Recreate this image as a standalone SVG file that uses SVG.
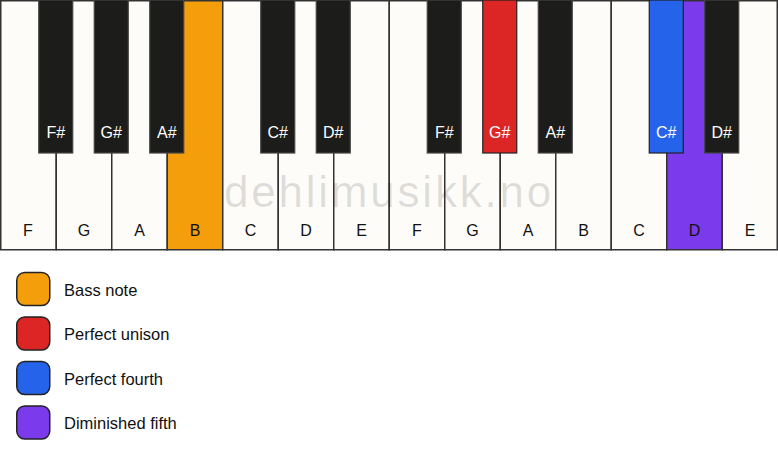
<svg xmlns="http://www.w3.org/2000/svg" width="778" height="461" viewBox="0 0 778 461">
<style>
.w{fill:#fdfcf8;stroke:#333;stroke-width:1.5}
.b{fill:#1c1c1a;stroke:#444;stroke-width:1.2}
.wl{font-family:"Liberation Sans",Arial,sans-serif;font-size:16px;fill:#111;text-anchor:middle}
.bl{font-family:"Liberation Sans",Arial,sans-serif;font-size:16px;fill:#fff;text-anchor:middle}
.lg{stroke:#222;stroke-width:1.5}
.lt{font-family:"Liberation Sans",Arial,sans-serif;font-size:16.5px;fill:#111}
.wm{font-family:"Liberation Sans",Arial,sans-serif;font-size:44px;fill:#000;fill-opacity:0.12;text-anchor:middle;letter-spacing:2.8px}
</style>
<rect width="778" height="461" fill="#ffffff"/>
<g id="white-keys">
<g id="key-F1"><rect class="w" x="0.75" y="0.75" width="55.5" height="249"/><text class="wl" x="28" y="236">F</text></g>
<g id="key-G1"><rect class="w" x="56.25" y="0.75" width="55.5" height="249"/><text class="wl" x="84" y="236">G</text></g>
<g id="key-A1"><rect class="w" x="111.75" y="0.75" width="55.5" height="249"/><text class="wl" x="139.5" y="236">A</text></g>
<g id="key-B1"><rect class="w" x="167.25" y="0.75" width="55.5" height="249" style="fill:#f59e0b"/><text class="wl" x="195" y="236">B</text></g>
<g id="key-C1"><rect class="w" x="222.75" y="0.75" width="55.5" height="249"/><text class="wl" x="250.5" y="236">C</text></g>
<g id="key-D1"><rect class="w" x="278.25" y="0.75" width="55.5" height="249"/><text class="wl" x="306" y="236">D</text></g>
<g id="key-E1"><rect class="w" x="333.75" y="0.75" width="55.5" height="249"/><text class="wl" x="361.5" y="236">E</text></g>
<g id="key-F2"><rect class="w" x="389.25" y="0.75" width="55.5" height="249"/><text class="wl" x="417" y="236">F</text></g>
<g id="key-G2"><rect class="w" x="444.75" y="0.75" width="55.5" height="249"/><text class="wl" x="472.5" y="236">G</text></g>
<g id="key-A2"><rect class="w" x="500.25" y="0.75" width="55.5" height="249"/><text class="wl" x="528" y="236">A</text></g>
<g id="key-B2"><rect class="w" x="555.75" y="0.75" width="55.5" height="249"/><text class="wl" x="583.5" y="236">B</text></g>
<g id="key-C2"><rect class="w" x="611.25" y="0.75" width="55.5" height="249"/><text class="wl" x="639" y="236">C</text></g>
<g id="key-D2"><rect class="w" x="666.75" y="0.75" width="55.5" height="249" style="fill:#7c3aed"/><text class="wl" x="694.5" y="236">D</text></g>
<g id="key-E2"><rect class="w" x="722.25" y="0.75" width="55" height="249"/><text class="wl" x="750" y="236">E</text></g>
</g>
<text class="wm" x="389" y="207">dehlimusikk.no</text>
<g id="black-keys">
<g id="key-Fs1"><rect class="b" x="38.75" y="0" width="34" height="153"/><text class="bl" x="55.75" y="138">F#</text></g>
<g id="key-Gs1"><rect class="b" x="94.25" y="0" width="34" height="153"/><text class="bl" x="111.25" y="138">G#</text></g>
<g id="key-As1"><rect class="b" x="149.75" y="0" width="34" height="153"/><text class="bl" x="166.75" y="138">A#</text></g>
<g id="key-Cs1"><rect class="b" x="260.75" y="0" width="34" height="153"/><text class="bl" x="277.75" y="138">C#</text></g>
<g id="key-Ds1"><rect class="b" x="316.25" y="0" width="34" height="153"/><text class="bl" x="333.25" y="138">D#</text></g>
<g id="key-Fs2"><rect class="b" x="427.25" y="0" width="34" height="153"/><text class="bl" x="444.25" y="138">F#</text></g>
<g id="key-Gs2"><rect class="b" x="482.75" y="0" width="34" height="153" style="fill:#dc2626;stroke:#222"/><text class="bl" x="499.75" y="138">G#</text></g>
<g id="key-As2"><rect class="b" x="538.25" y="0" width="34" height="153"/><text class="bl" x="555.25" y="138">A#</text></g>
<g id="key-Cs2"><rect class="b" x="649.25" y="0" width="34" height="153" style="fill:#2563eb;stroke:#222"/><text class="bl" x="666.25" y="138">C#</text></g>
<g id="key-Ds2"><rect class="b" x="704.75" y="0" width="34" height="153"/><text class="bl" x="721.75" y="138">D#</text></g>
</g>
<g id="legend">
<g id="legend-bass"><rect class="lg" x="16.75" y="272.5" width="33" height="33" rx="8" fill="#f59e0b"/><text class="lt" x="64" y="295.5">Bass note</text></g>
<g id="legend-unison"><rect class="lg" x="16.75" y="317" width="33" height="33" rx="8" fill="#dc2626"/><text class="lt" x="64" y="340">Perfect unison</text></g>
<g id="legend-fourth"><rect class="lg" x="16.75" y="361.5" width="33" height="33" rx="8" fill="#2563eb"/><text class="lt" x="64" y="384.5">Perfect fourth</text></g>
<g id="legend-fifth"><rect class="lg" x="16.75" y="406" width="33" height="33" rx="8" fill="#7c3aed"/><text class="lt" x="64" y="429">Diminished fifth</text></g>
</g>
<g id="connectors"></g>
</svg>
